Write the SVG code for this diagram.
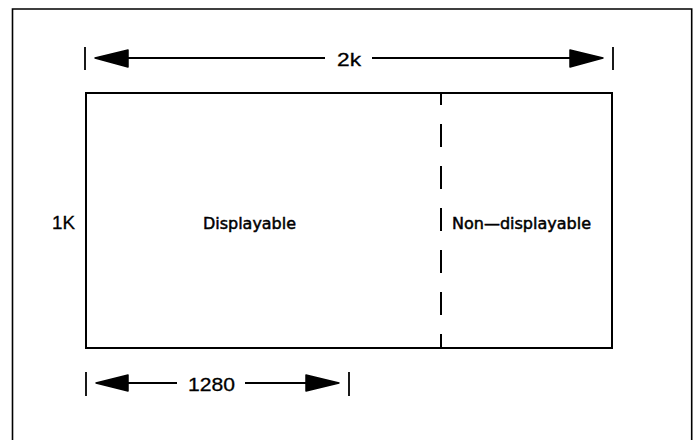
<svg xmlns="http://www.w3.org/2000/svg" width="699" height="440" viewBox="0 0 699 440">
<style>
.frame{fill:none;stroke:#000;stroke-width:1.6}
.box{fill:none;stroke:#000;stroke-width:2}
.dash{fill:none;stroke:#000;stroke-width:2;stroke-dasharray:23 19;stroke-dashoffset:11}
.dim{fill:none;stroke:#000;stroke-width:1.8}
.tick{fill:none;stroke:#000;stroke-width:1.8}
.head{fill:#000;stroke:#000;stroke-width:1.5;stroke-linejoin:round}
.num{font-family:"Liberation Sans",Arial,sans-serif;font-size:19px;fill:#000;stroke:#000;stroke-width:0.3}
.lbl{font-family:"DejaVu Sans","Liberation Sans",sans-serif;font-size:16px;fill:#000;stroke:#000;stroke-width:0.5}
</style>
<rect width="699" height="440" fill="#fff"/>
<g id="frame">
<path class="frame" d="M12.5,450 V9 H691.7 V450"/>
</g>
<g id="displayable">
<rect class="box" x="86" y="93" width="526" height="255"/>
<text class="lbl" x="203" y="229" textLength="93" lengthAdjust="spacingAndGlyphs">Displayable</text>
</g>
<g id="non-displayable">
<text class="lbl" x="452" y="229" textLength="139" lengthAdjust="spacingAndGlyphs">Non—displayable</text>
</g>
<g id="height-label">
<text class="num" x="52" y="229" textLength="23" lengthAdjust="spacingAndGlyphs">1K</text>
</g>
<g id="connectors">
<line class="dash" x1="441" y1="93" x2="441" y2="348"/>
<line class="tick" x1="85" y1="47" x2="85" y2="70"/>
<line class="tick" x1="613" y1="47" x2="613" y2="70"/>
<line class="dim" x1="126" y1="58" x2="325" y2="58"/>
<line class="dim" x1="372" y1="58" x2="572" y2="58"/>
<polygon class="head" points="95,58 128,50 128,67"/>
<polygon class="head" points="603,58 570,50 570,67"/>
<text class="num" x="337" y="66" textLength="24" lengthAdjust="spacingAndGlyphs">2k</text>
<line class="tick" x1="86" y1="372" x2="86" y2="396"/>
<line class="tick" x1="349" y1="372" x2="349" y2="396"/>
<line class="dim" x1="126" y1="383" x2="177" y2="383"/>
<line class="dim" x1="245" y1="383" x2="308" y2="383"/>
<polygon class="head" points="96,383 128,375 128,391"/>
<polygon class="head" points="339,383 306,375 306,391"/>
<text class="num" x="188" y="391" textLength="47" lengthAdjust="spacingAndGlyphs">1280</text>
</g>
</svg>
